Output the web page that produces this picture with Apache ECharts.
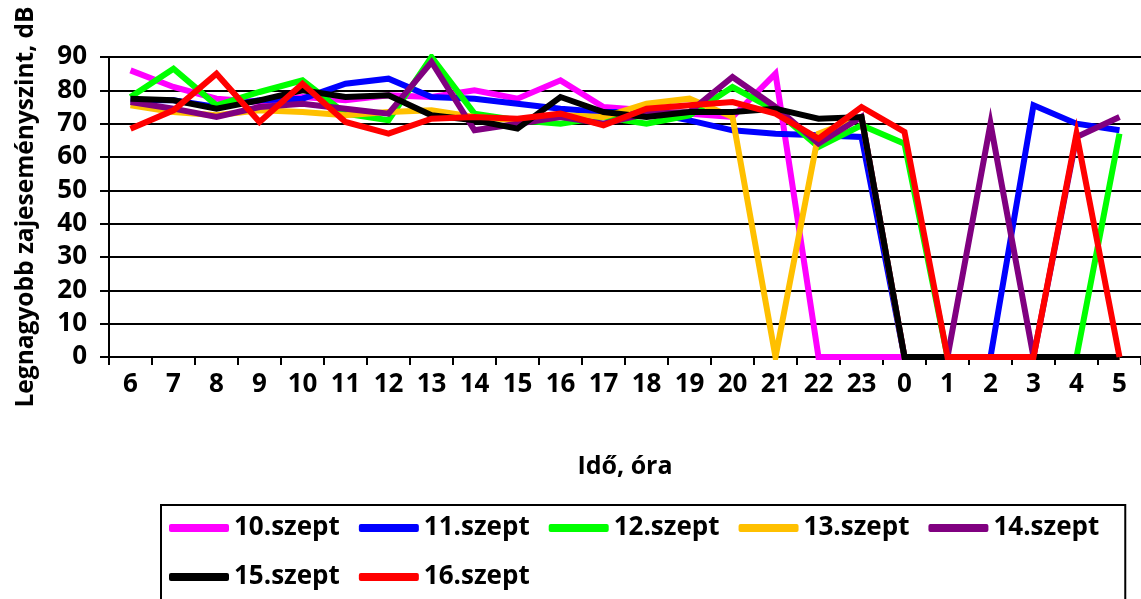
<!DOCTYPE html>
<html>
<head>
<meta charset="utf-8">
<title>Legnagyobb zajeseményszint</title>
<script src="https://cdn.jsdelivr.net/npm/echarts@6/dist/echarts.min.js"></script>
<style>
  html, body { margin: 0; padding: 0; background: #fff; }
  #chart { width: 1141px; height: 599px; }
</style>
</head>
<body>
<div id="chart"></div>
<script>
// Hours of the measurement day, starting at 6 in the morning
const hours = ['6','7','8','9','10','11','12','13','14','15','16','17','18','19','20','21','22','23','0','1','2','3','4','5'];

// Highest noise event level per hour (dB), one array per day
const sep10 = [86, 81, 77.5, 76.5, 78, 77, 78.5, 78, 80, 77.5, 83, 75, 74, 73, 72, 85, 0, 0, 0, 0, 0, 0, 0, 0];
const sep11 = [77, 77, 75, 77, 77.5, 82, 83.5, 78, 77.5, 76, 74.5, 73.5, 73.5, 71, 68, 67, 66.5, 66, 0, 0, 0, 75.5, 70, 68];
const sep12 = [78, 86.5, 75.5, 79.5, 83, 73, 71, 90, 73, 71, 70, 72, 70, 72.5, 81, 74, 63, 69.5, 64, 0, 0, 0, 0, 67];
const sep13 = [75.5, 73.5, 72.5, 74, 73.5, 72.5, 73.5, 74, 72, 71, 72.5, 72, 76, 77.5, 72, 0, 67, 72, 0, 0, 0, 0, 0, 0];
const sep14 = [76.5, 74.5, 72, 75, 76, 74.5, 73, 88.5, 68, 70, 72, 70, 73, 73.5, 84, 75, 64, 72, 0, 0, 70, 0, 66, 72];
const sep15 = [77.5, 77, 74.5, 77, 80, 78, 78.5, 72.5, 71, 68.5, 78, 73.5, 72, 73.5, 73.5, 74.5, 71.5, 72, 0, 0, 0, 0, 0, 0];
const sep16 = [68.5, 74, 85, 70.5, 82, 70.5, 67, 71.5, 72, 71.5, 73, 69.5, 74.5, 75.5, 76.5, 73, 65.5, 75, 67.5, 0, 0, 0, 67, 0];

const yTicks = { min: 0, max: 90, step: 10 };

const days = [
  { name: '10.szept', data: sep10, color: '#FF00FF' },
  { name: '11.szept', data: sep11, color: '#0000FF' },
  { name: '12.szept', data: sep12, color: '#00FF00' },
  { name: '13.szept', data: sep13, color: '#FFC000' },
  { name: '14.szept', data: sep14, color: '#800080' },
  { name: '15.szept', data: sep15, color: '#000000' },
  { name: '16.szept', data: sep16, color: '#FF0000' }
];

const FONT = '"Open Sans", "Noto Sans", sans-serif';

const chart = echarts.init(document.getElementById('chart'), null, { renderer: 'canvas' });

chart.setOption({
  animation: false,
  backgroundColor: '#ffffff',
  textStyle: { fontFamily: FONT, color: '#000' },
  grid: { left: 109, top: 57, width: 1038, bottom: 242, containLabel: false },
  legend: {
    left: 161,
    top: 505,
    width: 950,
    orient: 'horizontal',
    padding: [8, 26, 24, 8],
    itemGap: 19,
    itemWidth: 60,
    itemHeight: 8,
    icon: 'roundRect',
    borderColor: '#000',
    borderWidth: 2,
    borderRadius: 0,
    textStyle: { fontFamily: FONT, fontWeight: 'bold', fontSize: 26, color: '#000', lineHeight: 30 },
    data: days.map(d => d.name)
  },
  xAxis: {
    type: 'category',
    data: hours,
    boundaryGap: true,
    name: 'Idő, óra',
    nameLocation: 'middle',
    nameGap: 97,
    nameTextStyle: { fontFamily: FONT, fontWeight: 'bold', fontSize: 25, color: '#000' },
    axisLine: { show: true, lineStyle: { color: '#000', width: 2 } },
    axisTick: { show: true, length: 8, lineStyle: { color: '#000', width: 2 } },
    axisLabel: { margin: 15, fontFamily: FONT, fontWeight: 'bold', fontSize: 26, color: '#000', interval: 0 },
    splitLine: { show: false }
  },
  yAxis: {
    type: 'value',
    min: yTicks.min,
    max: yTicks.max,
    interval: yTicks.step,
    name: 'Legnagyobb zajeseményszint, dB',
    nameLocation: 'middle',
    nameGap: 70,
    nameTextStyle: { fontFamily: FONT, fontWeight: 'bold', fontSize: 24.5, color: '#000' },
    axisLine: { show: true, lineStyle: { color: '#000', width: 2 } },
    axisTick: { show: true, length: 9, lineStyle: { color: '#000', width: 2 } },
    axisLabel: { margin: 22, fontFamily: FONT, fontWeight: 'bold', fontSize: 26, color: '#000' },
    splitLine: { show: true, lineStyle: { color: '#000', width: 2 } }
  },
  series: days.map(d => ({
    name: d.name,
    type: 'line',
    data: d.data,
    symbol: 'none',
    color: d.color,
    lineStyle: { color: d.color, width: 6, join: 'miter' },
    itemStyle: { color: d.color }
  }))
});
</script>
</body>
</html>
